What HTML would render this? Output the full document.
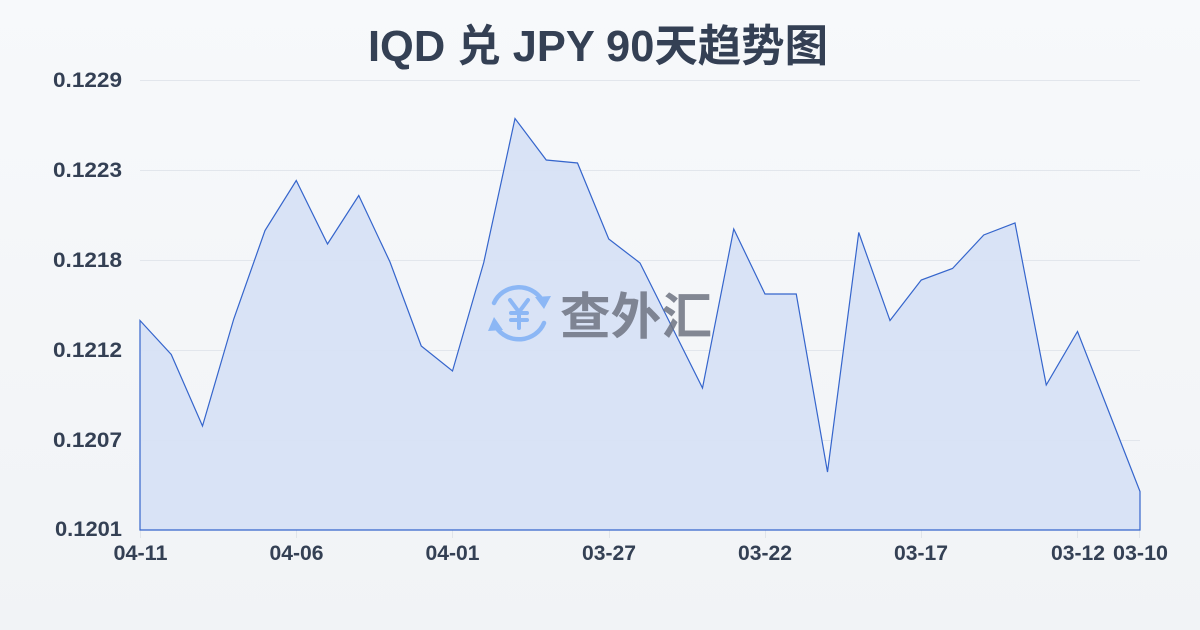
<!DOCTYPE html>
<html>
<head>
<meta charset="utf-8">
<style>
  html, body { margin:0; padding:0; }
  body { width:1200px; height:630px; overflow:hidden; }
  svg { display:block; }
</style>
</head>
<body>
<svg width="1200" height="630" viewBox="0 0 1200 630" xmlns="http://www.w3.org/2000/svg">
  <defs>
    <linearGradient id="bg" x1="0" y1="0" x2="0" y2="1">
      <stop offset="0" stop-color="#f7f9fb"/>
      <stop offset="1" stop-color="#f1f3f6"/>
    </linearGradient>
  </defs>
  <rect x="0" y="0" width="1200" height="630" fill="url(#bg)"/>

  <!-- title -->
  <text x="598" y="61" text-anchor="middle" font-family="'Liberation Sans','Noto Sans CJK SC',sans-serif" font-weight="bold" font-size="44" fill="#344054" textLength="460" lengthAdjust="spacingAndGlyphs">IQD 兑 JPY 90天趋势图</text>

  <!-- grid -->
  <g stroke="#e2e6ec" stroke-width="1">
    <line x1="140" y1="80.5" x2="1140" y2="80.5"/>
    <line x1="140" y1="170.5" x2="1140" y2="170.5"/>
    <line x1="140" y1="260.5" x2="1140" y2="260.5"/>
    <line x1="140" y1="350.5" x2="1140" y2="350.5"/>
    <line x1="140" y1="440.5" x2="1140" y2="440.5"/>
  </g>

  <!-- ticks -->
  <g stroke="#e0e4ea" stroke-width="1">
    <line x1="140.5" y1="530" x2="140.5" y2="538"/>
    <line x1="296.5" y1="530" x2="296.5" y2="538"/>
    <line x1="452.5" y1="530" x2="452.5" y2="538"/>
    <line x1="609.5" y1="530" x2="609.5" y2="538"/>
    <line x1="765.5" y1="530" x2="765.5" y2="538"/>
    <line x1="921.5" y1="530" x2="921.5" y2="538"/>
    <line x1="1077.5" y1="530" x2="1077.5" y2="538"/>
    <line x1="1139.5" y1="530" x2="1139.5" y2="538"/>
  </g>

  <!-- area -->
  <path d="M140,530 L140,320.5 L171.25,354.5 L202.5,426 L233.75,319 L265,230.5 L296.25,180.5 L327.5,244 L358.75,195.5 L390,262 L421.25,346 L452.5,371 L483.75,262.5 L515,118.5 L546.25,160 L577.5,163 L608.75,239 L640,263 L671.25,325.5 L702.5,388 L733.75,229 L765,294 L796.25,294 L827.5,472 L858.75,232.5 L890,320.5 L921.25,280 L952.5,268.5 L983.75,235 L1015,223 L1046.25,385 L1077.5,331.5 L1108.75,411.5 L1140,491.5 L1140,530 Z"
        fill="#d7e1f5" fill-opacity="0.95" stroke="#3565cc" stroke-width="1.2" stroke-linejoin="miter"/>

  <!-- watermark -->
  <g opacity="0.85">
    <g fill="none" stroke="#7fb0f5" stroke-width="4.5" stroke-linecap="round">
      <path d="M494,303 A27,26 0 0 1 542,300"/>
      <path d="M544,323 A27,26 0 0 1 496,327"/>
    </g>
    <polygon points="535,297 551,296 544,309" fill="#7fb0f5"/>
    <polygon points="503,330 488,331 494,317" fill="#7fb0f5"/>
    <g stroke="#7fb0f5" stroke-width="4" stroke-linecap="round" fill="none">
      <path d="M510,300 L519,312 L528,300"/>
      <line x1="519" y1="312" x2="519" y2="328"/>
      <line x1="511" y1="313" x2="527" y2="313"/>
      <line x1="511" y1="320" x2="527" y2="320"/>
    </g>
    <text x="560" y="334" font-family="'Noto Sans CJK SC',sans-serif" font-weight="bold" font-size="50" fill="#6f7482" textLength="152" lengthAdjust="spacingAndGlyphs">查外汇</text>
  </g>

  <!-- y labels -->
  <g font-family="'Liberation Sans',sans-serif" font-weight="bold" font-size="21.5" fill="#344054">
    <text x="53" y="87" textLength="69" lengthAdjust="spacingAndGlyphs">0.1229</text>
    <text x="53" y="177" textLength="69" lengthAdjust="spacingAndGlyphs">0.1223</text>
    <text x="53" y="267" textLength="69" lengthAdjust="spacingAndGlyphs">0.1218</text>
    <text x="53" y="357" textLength="69" lengthAdjust="spacingAndGlyphs">0.1212</text>
    <text x="53" y="447" textLength="69" lengthAdjust="spacingAndGlyphs">0.1207</text>
    <text x="55" y="536" textLength="67" lengthAdjust="spacingAndGlyphs">0.1201</text>
  </g>

  <!-- x labels -->
  <g font-family="'Liberation Sans',sans-serif" font-weight="bold" font-size="21" fill="#344054" text-anchor="middle">
    <text x="140.5" y="560" textLength="54" lengthAdjust="spacingAndGlyphs">04-11</text>
    <text x="296.5" y="560" textLength="54" lengthAdjust="spacingAndGlyphs">04-06</text>
    <text x="452.5" y="560" textLength="54" lengthAdjust="spacingAndGlyphs">04-01</text>
    <text x="609" y="560" textLength="54" lengthAdjust="spacingAndGlyphs">03-27</text>
    <text x="765" y="560" textLength="54" lengthAdjust="spacingAndGlyphs">03-22</text>
    <text x="921" y="560" textLength="54" lengthAdjust="spacingAndGlyphs">03-17</text>
    <text x="1078" y="560" textLength="54" lengthAdjust="spacingAndGlyphs">03-12</text>
    <text x="1140.5" y="560" textLength="55" lengthAdjust="spacingAndGlyphs">03-10</text>
  </g>
</svg>
</body>
</html>
